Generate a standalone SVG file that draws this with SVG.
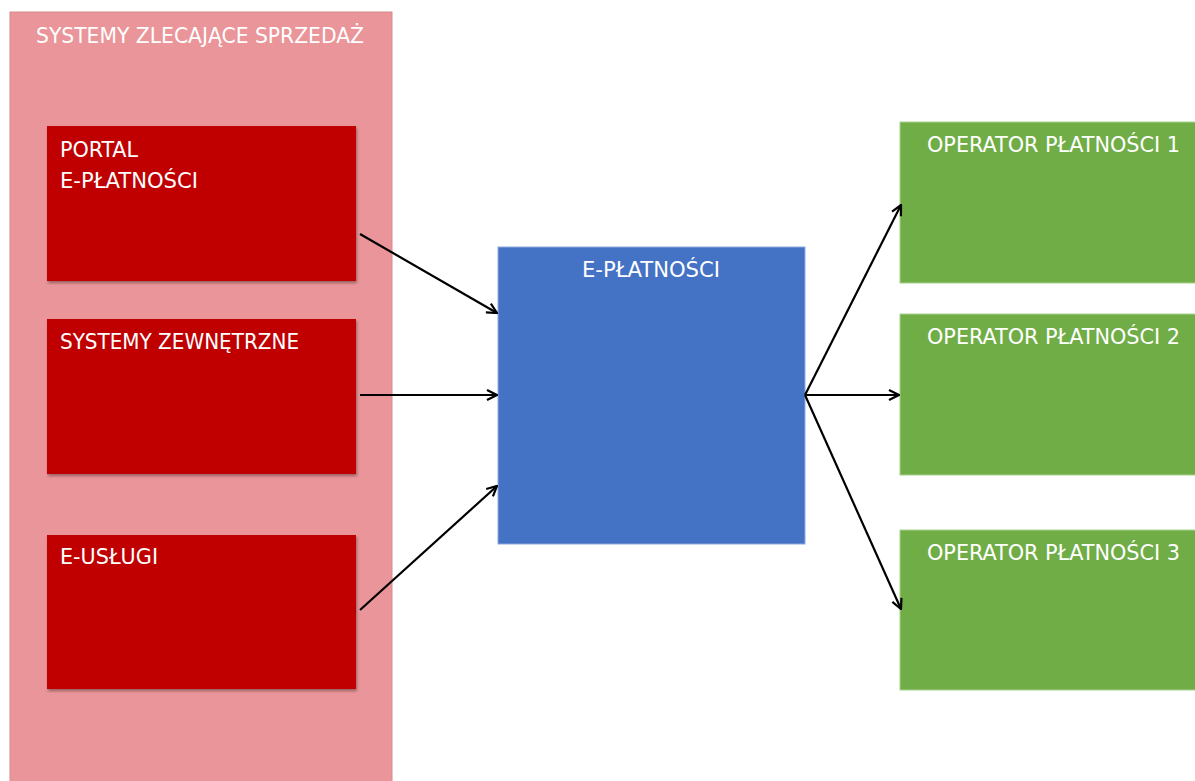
<svg xmlns="http://www.w3.org/2000/svg" width="1195" height="781" viewBox="0 0 1195 781">
<style>
.t{font-family:"DejaVu Sans Condensed","Liberation Sans",sans-serif;font-size:22px;fill:#ffffff}
.red{fill:#C00000;filter:url(#sh)}
.green{fill:#70AD47;stroke:#A9D18E;stroke-width:1}
.conn{stroke:#000;stroke-width:2.2;fill:none;marker-end:url(#ah)}
</style>
<defs>
<marker id="ah" viewBox="0 0 12 12" refX="11" refY="6" markerWidth="12" markerHeight="12" markerUnits="userSpaceOnUse" orient="auto">
<path d="M1,1 L11,6 L1,11" fill="none" stroke="#000" stroke-width="2.2"/>
</marker>
<filter id="sh" x="-5%" y="-5%" width="115%" height="115%">
<feDropShadow dx="1" dy="2" stdDeviation="1.5" flood-color="#000" flood-opacity="0.35"/>
</filter>
</defs>
<rect width="1195" height="781" fill="#ffffff"/>
<g id="group-systemy">
<rect x="10" y="12" width="382" height="775" fill="#EA9599" stroke="#D9898D" stroke-width="1"/>
<text class="t" x="36" y="43" textLength="328" lengthAdjust="spacingAndGlyphs">SYSTEMY ZLECAJĄCE SPRZEDAŻ</text>
</g>
<g id="node-portal">
<rect class="red" x="47" y="126" width="309" height="155"/>
<text class="t" x="60" y="157" textLength="78" lengthAdjust="spacingAndGlyphs">PORTAL</text>
<text class="t" x="60" y="188" textLength="138" lengthAdjust="spacingAndGlyphs">E-PŁATNOŚCI</text>
</g>
<g id="node-zewnetrzne">
<rect class="red" x="47" y="319" width="309" height="155"/>
<text class="t" x="60" y="349" textLength="239" lengthAdjust="spacingAndGlyphs">SYSTEMY ZEWNĘTRZNE</text>
</g>
<g id="node-euslugi">
<rect class="red" x="47" y="535" width="309" height="154"/>
<text class="t" x="60" y="564" textLength="98" lengthAdjust="spacingAndGlyphs">E-USŁUGI</text>
</g>
<g id="node-eplatnosci">
<rect x="498" y="247" width="307" height="297" fill="#4472C4" stroke="#8FAADC" stroke-width="1"/>
<text class="t" x="582" y="277" textLength="138" lengthAdjust="spacingAndGlyphs">E-PŁATNOŚCI</text>
</g>
<g id="node-op1">
<rect class="green" x="900" y="122" width="300" height="161"/>
<text class="t" x="927" y="152" textLength="253" lengthAdjust="spacingAndGlyphs">OPERATOR PŁATNOŚCI 1</text>
</g>
<g id="node-op2">
<rect class="green" x="900" y="314" width="300" height="161"/>
<text class="t" x="927" y="344" textLength="253" lengthAdjust="spacingAndGlyphs">OPERATOR PŁATNOŚCI 2</text>
</g>
<g id="node-op3">
<rect class="green" x="900" y="530" width="300" height="160"/>
<text class="t" x="927" y="560" textLength="253" lengthAdjust="spacingAndGlyphs">OPERATOR PŁATNOŚCI 3</text>
</g>
<g id="connectors">
<line class="conn" x1="360" y1="234" x2="497" y2="313"/>
<line class="conn" x1="360" y1="395" x2="497" y2="395"/>
<line class="conn" x1="360" y1="610" x2="497" y2="486"/>
<line class="conn" x1="805" y1="395" x2="901" y2="205"/>
<line class="conn" x1="805" y1="395" x2="899" y2="395"/>
<line class="conn" x1="805" y1="395" x2="901" y2="609"/>
</g>
</svg>
